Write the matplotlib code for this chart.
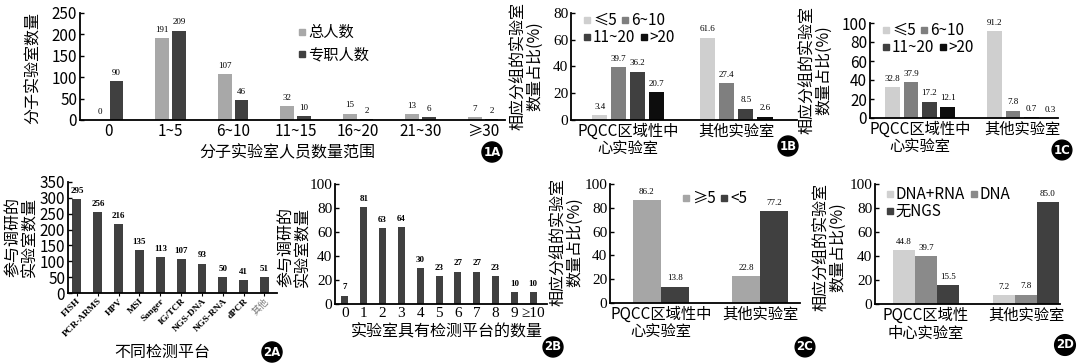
import matplotlib
matplotlib.use("Agg")
import matplotlib.pyplot as plt
from matplotlib.lines import Line2D
import numpy as np

plt.rcParams['font.family'] = ['Noto Sans CJK SC', 'DejaVu Sans']
plt.rcParams['axes.unicode_minus'] = False

# ---- data ----
staff_ranges = ['0', '1~5', '6~10', '11~15', '16~20', '21~30', '≥30']
staff_total = [0, 191, 107, 32, 15, 13, 7]
staff_fulltime = [90, 209, 46, 10, 2, 6, 2]

lab_groups = ['PQCC区域性中\n心实验室', '其他实验室']
lab_groups_2d = ['PQCC区域性\n中心实验室', '其他实验室']

size_labels = ['≤5', '6~10', '11~20', '>20']
total_by_size = [[3.4, 61.6], [39.7, 27.4], [36.2, 8.5], [20.7, 2.6]]
fulltime_by_size = [[32.8, 91.2], [37.9, 7.8], [17.2, 0.7], [12.1, 0.3]]

platforms = ['FISH', 'PCR-ARMS', 'HPV', 'MSI', 'Sanger', 'IG/TCR',
             'NGS-DNA', 'NGS-RNA', 'dPCR', '其他']
platform_labs = [295, 256, 216, 135, 113, 107, 93, 50, 41, 51]

n_platforms = ['0', '1', '2', '3', '4', '5', '6', '7', '8', '9', '≥10']
n_platform_labs = [7, 81, 63, 64, 30, 23, 27, 27, 23, 10, 10]

plat5_labels = ['≥5', '<5']
plat5_vals = [[86.2, 22.8], [13.8, 77.2]]

ngs_labels = ['DNA+RNA', 'DNA', '无NGS']
ngs_vals = [[44.8, 7.2], [39.7, 7.8], [15.5, 85.0]]

W, H = 1080, 364
fig = plt.figure(figsize=(W / 100, H / 100), dpi=100)
SERIF = 'Liberation Serif'
YLAB = '相应分组的实验室\n数量占比(%)'


def add_ax(l, t, r, b):
    return fig.add_axes([l / W, 1 - b / H, (r - l) / W, (b - t) / H])


def style(ax, tickfont=None):
    for s in ['top', 'right']:
        ax.spines[s].set_visible(False)
    for s in ['left', 'bottom']:
        ax.spines[s].set_linewidth(1.3)
    ax.tick_params(axis='y', direction='in', length=3, width=1, labelsize=11, pad=2)
    ax.tick_params(axis='x', length=0, labelsize=11, pad=2)
    if tickfont:
        for lab in ax.get_yticklabels():
            lab.set_family(tickfont)


def ftext(x, y, s, **kw):
    fig.text(x / W, 1 - y / H, s, **kw)


def ylab(x, y, s):
    ftext(x, y, s, rotation=90, ha='center', va='center', fontsize=11.5,
          linespacing=0.95, multialignment='center')


def badge(x, y, s):
    ftext(x, y, s, color='white', fontsize=8.5, fontweight='bold', ha='center',
          va='center', family='DejaVu Sans',
          bbox=dict(boxstyle='circle,pad=0.12', fc='black', ec='black'))


def vlabels(ax, xs, vals, fmt, bold=False, size=6.5):
    for x, v in zip(xs, vals):
        ax.annotate(fmt.format(v), (x, v), xytext=(0, 3), textcoords='offset points',
                    ha='center', va='bottom', fontsize=size, family=SERIF,
                    fontweight='bold' if bold else 'normal')


def sq_legend(ax, labels, colors, x, y, per_row=1, row_h=17):
    # one legend per row so the items flow like text
    handles = [Line2D([], [], marker='s', ls='', color=c, markersize=4) for c in colors]
    starts = list(range(0, len(labels), per_row))
    for r, i in enumerate(starts):
        leg = ax.legend(handles[i:i + per_row], labels[i:i + per_row], loc='upper left',
                        bbox_to_anchor=(x / W, 1 - (y + r * row_h) / H),
                        bbox_transform=fig.transFigure, frameon=False, ncol=per_row,
                        handlelength=0.5, handletextpad=0.15, columnspacing=0.3,
                        borderpad=0, borderaxespad=0, fontsize=11)
        if r < len(starts) - 1:
            ax.add_artist(leg)


def grouped(ax, series, colors, width, step, fmt):
    n = len(series)
    for i, (vals, c) in enumerate(zip(series, colors)):
        xs = np.arange(len(vals)) + (i - (n - 1) / 2) * step
        ax.bar(xs, vals, width=width, color=c)
        vlabels(ax, xs, vals, fmt)


# ---- 1A ----
ax = add_ax(80, 13, 505, 120)
x = np.arange(len(staff_ranges))
grouped(ax, [staff_total, staff_fulltime], ['#a8a8a8', '#404040'], 0.22, 0.27, '{:d}')
ax.set_xlim(-0.45, 6.35)
ax.set_ylim(0, 250)
ax.set_yticks(range(0, 251, 50))
ax.set_xticks(x)
ax.set_xticklabels(staff_ranges)
style(ax)
sq_legend(ax, ['总人数', '专职人数'], ['#a8a8a8', '#404040'], 298, 24, row_h=22)
ylab(33, 68, '分子实验室数量')
ftext(287, 153, '分子实验室人员数量范围', ha='center', va='center', fontsize=11.5)
badge(492, 152, '1A')

size_colors = ['#cfcfcf', '#7f7f7f', '#404040', '#0d0d0d']

# ---- 1B ----
ax = add_ax(571, 13, 797, 120)
grouped(ax, total_by_size, size_colors, 0.139, 0.176, '{:.1f}')
ax.set_xlim(-0.53, 1.56)
ax.set_ylim(0, 80)
ax.set_yticks(range(0, 81, 20))
ax.set_xticks([0, 1])
ax.set_xticklabels(lab_groups, linespacing=1.1)
style(ax, SERIF)
sq_legend(ax, size_labels, size_colors, 583, 12, per_row=2)
ylab(527, 66, YLAB)
badge(788, 146, '1B')

# ---- 1C ----
ax = add_ax(870, 23, 1058, 118)
grouped(ax, fulltime_by_size, size_colors, 0.142, 0.18, '{:.1f}')
ax.set_xlim(-0.49, 1.35)
ax.set_ylim(0, 100)
ax.set_yticks(range(0, 101, 20))
ax.set_xticks([0, 1])
ax.set_xticklabels(lab_groups, linespacing=1.1)
style(ax)
sq_legend(ax, size_labels, size_colors, 882, 22, per_row=2)
ylab(816, 70, YLAB)
badge(1062, 150, '1C')

# ---- 2A ----
ax = add_ax(68, 182, 277, 293)
xs = np.arange(len(platforms))
ax.bar(xs, platform_labs, width=0.43, color='#404040')
vlabels(ax, xs, platform_labs, '{:d}', bold=True)
ax.set_xlim(-0.43, 9.6)
ax.set_ylim(0, 350)
ax.set_yticks(range(0, 351, 50))
ax.set_xticks(xs)
ax.set_xticklabels(platforms, rotation=45, ha='right', rotation_mode='anchor',
                   fontsize=6.8, fontweight='bold', family=[SERIF, 'Noto Sans CJK SC'])
ax.get_xticklabels()[-1].set_color('#777777')
ax.get_xticklabels()[-1].set_fontweight('normal')
style(ax)
ax.tick_params(axis='x', labelsize=6.8, length=2, direction='out', pad=1)
ylab(22, 237, '参与调研的\n实验室数量')
ftext(162, 352, '不同检测平台', ha='center', va='center', fontsize=11.5)
badge(272, 352, '2A')

# ---- 2B ----
ax = add_ax(335, 184, 547, 304)
xs = np.arange(len(n_platforms))
ax.bar(xs, n_platform_labs, width=0.37, color='#404040')
vlabels(ax, xs, n_platform_labs, '{:d}', bold=True)
ax.set_xlim(-0.53, 10.74)
ax.set_ylim(0, 100)
ax.set_yticks(range(0, 101, 20))
ax.set_xticks(xs)
ax.set_xticklabels(n_platforms, family=[SERIF, 'DejaVu Sans'])
style(ax, SERIF)
ylab(295, 247, '参与调研的\n实验室数量')
ftext(447, 332, '实验室具有检测平台的数量', ha='center', va='center', fontsize=11.5)
badge(553, 347, '2B')

# ---- 2C ----
ax = add_ax(610, 184, 800, 303)
grouped(ax, plat5_vals, ['#a6a6a6', '#404040'], 0.28, 0.28, '{:.1f}')
ax.set_xlim(-0.51, 1.4)
ax.set_ylim(0, 100)
ax.set_yticks(range(0, 101, 20))
ax.set_xticks([0, 1])
ax.set_xticklabels(lab_groups, linespacing=1.1)
style(ax, SERIF)
sq_legend(ax, plat5_labels, ['#a6a6a6', '#404040'], 682, 190, per_row=2)
ylab(567, 242, YLAB)
badge(805, 347, '2C')

# ---- 2D ----
ngs_colors = ['#d0d0d0', '#8a8a8a', '#404040']
ax = add_ax(875, 184, 1060, 304)
grouped(ax, ngs_vals, ngs_colors, 0.22, 0.22, '{:.1f}')
ax.set_xlim(-0.51, 1.34)
ax.set_ylim(0, 100)
ax.set_yticks(range(0, 101, 20))
ax.set_xticks([0, 1])
ax.set_xticklabels(lab_groups_2d, linespacing=1.1)
style(ax, SERIF)
sq_legend(ax, ngs_labels, ngs_colors, 886, 186, per_row=2)
ylab(830, 247, YLAB)
badge(1065, 345, '2D')

fig.savefig('out.png', dpi=100)
